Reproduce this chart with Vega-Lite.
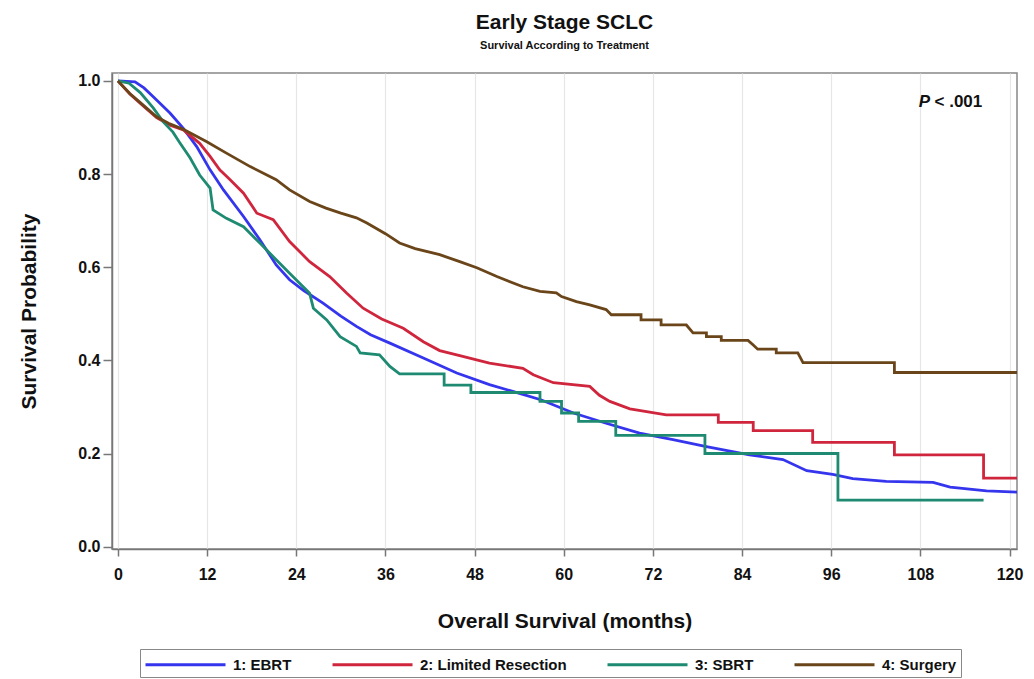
{
  "$schema": "https://vega.github.io/schema/vega-lite/v6.json",
  "autosize": {"type": "none"},
  "padding": {"left": 112, "top": 73, "right": 17, "bottom": 130},
  "width": 905,
  "height": 476,
  "background": "white",
  "title": {
    "text": "Early Stage SCLC",
    "subtitle": "Survival According to Treatment",
    "anchor": "middle",
    "font": "Liberation Sans",
    "fontSize": 21,
    "fontWeight": "bold",
    "color": "#111",
    "subtitleFont": "Liberation Sans",
    "subtitleFontSize": 11,
    "subtitleFontWeight": "bold",
    "subtitleColor": "#111",
    "subtitlePadding": 7,
    "offset": 22
  },
  "config": {
    "view": {"stroke": "#888", "strokeWidth": 1.5},
    "axis": {
      "labelFont": "Liberation Sans",
      "labelFontSize": 16,
      "labelFontWeight": "bold",
      "labelColor": "#111",
      "titleFont": "Liberation Sans",
      "titleFontSize": 21,
      "titleFontWeight": "bold",
      "titleColor": "#111",
      "domainColor": "#777",
      "domainWidth": 1.5,
      "tickColor": "#777",
      "tickWidth": 1.5
    },
    "legend": {
      "labelFont": "Liberation Sans",
      "labelFontSize": 15,
      "labelFontWeight": "bold",
      "labelColor": "#111"
    }
  },
  "datasets": {
    "km": [
      {"g": "1: EBRT", "k": 1, "t": 0, "s": 1},
      {"g": "1: EBRT", "k": 2, "t": 2.3, "s": 0.998},
      {"g": "1: EBRT", "k": 3, "t": 3.5, "s": 0.985},
      {"g": "1: EBRT", "k": 4, "t": 4.75, "s": 0.966},
      {"g": "1: EBRT", "k": 5, "t": 7, "s": 0.931},
      {"g": "1: EBRT", "k": 6, "t": 8.8, "s": 0.898},
      {"g": "1: EBRT", "k": 7, "t": 10.6, "s": 0.859},
      {"g": "1: EBRT", "k": 8, "t": 12.4, "s": 0.809},
      {"g": "1: EBRT", "k": 9, "t": 14.2, "s": 0.766},
      {"g": "1: EBRT", "k": 10, "t": 16.9, "s": 0.709},
      {"g": "1: EBRT", "k": 11, "t": 19.1, "s": 0.659},
      {"g": "1: EBRT", "k": 12, "t": 21.3, "s": 0.605},
      {"g": "1: EBRT", "k": 13, "t": 23.1, "s": 0.573},
      {"g": "1: EBRT", "k": 14, "t": 25, "s": 0.55},
      {"g": "1: EBRT", "k": 15, "t": 27.6, "s": 0.523},
      {"g": "1: EBRT", "k": 16, "t": 30, "s": 0.495},
      {"g": "1: EBRT", "k": 17, "t": 32.1, "s": 0.473},
      {"g": "1: EBRT", "k": 18, "t": 34, "s": 0.455},
      {"g": "1: EBRT", "k": 19, "t": 36.6, "s": 0.437},
      {"g": "1: EBRT", "k": 20, "t": 41.1, "s": 0.405},
      {"g": "1: EBRT", "k": 21, "t": 45.6, "s": 0.373},
      {"g": "1: EBRT", "k": 22, "t": 50, "s": 0.348},
      {"g": "1: EBRT", "k": 23, "t": 54.5, "s": 0.327},
      {"g": "1: EBRT", "k": 24, "t": 57, "s": 0.315},
      {"g": "1: EBRT", "k": 25, "t": 61.3, "s": 0.287},
      {"g": "1: EBRT", "k": 26, "t": 65.7, "s": 0.265},
      {"g": "1: EBRT", "k": 27, "t": 70.2, "s": 0.244},
      {"g": "1: EBRT", "k": 28, "t": 74.7, "s": 0.23},
      {"g": "1: EBRT", "k": 29, "t": 79.2, "s": 0.215},
      {"g": "1: EBRT", "k": 30, "t": 85, "s": 0.197},
      {"g": "1: EBRT", "k": 31, "t": 89.5, "s": 0.187},
      {"g": "1: EBRT", "k": 32, "t": 92.7, "s": 0.163},
      {"g": "1: EBRT", "k": 33, "t": 96.2, "s": 0.155},
      {"g": "1: EBRT", "k": 34, "t": 98.9, "s": 0.146},
      {"g": "1: EBRT", "k": 35, "t": 103.4, "s": 0.14},
      {"g": "1: EBRT", "k": 36, "t": 109.7, "s": 0.138},
      {"g": "1: EBRT", "k": 37, "t": 112, "s": 0.128},
      {"g": "1: EBRT", "k": 38, "t": 116.9, "s": 0.12},
      {"g": "1: EBRT", "k": 39, "t": 121, "s": 0.117},

      {"g": "2: Limited Resection", "k": 1, "t": 0, "s": 1},
      {"g": "2: Limited Resection", "k": 2, "t": 1.6, "s": 0.972},
      {"g": "2: Limited Resection", "k": 3, "t": 3.4, "s": 0.946},
      {"g": "2: Limited Resection", "k": 4, "t": 5.2, "s": 0.921},
      {"g": "2: Limited Resection", "k": 5, "t": 7, "s": 0.905},
      {"g": "2: Limited Resection", "k": 6, "t": 8.8, "s": 0.895},
      {"g": "2: Limited Resection", "k": 7, "t": 11, "s": 0.866},
      {"g": "2: Limited Resection", "k": 8, "t": 12.4, "s": 0.838},
      {"g": "2: Limited Resection", "k": 9, "t": 13.7, "s": 0.809},
      {"g": "2: Limited Resection", "k": 10, "t": 15.1, "s": 0.788},
      {"g": "2: Limited Resection", "k": 11, "t": 16.9, "s": 0.759},
      {"g": "2: Limited Resection", "k": 12, "t": 18.7, "s": 0.716},
      {"g": "2: Limited Resection", "k": 13, "t": 20.9, "s": 0.702},
      {"g": "2: Limited Resection", "k": 14, "t": 23.1, "s": 0.655},
      {"g": "2: Limited Resection", "k": 15, "t": 25.8, "s": 0.612},
      {"g": "2: Limited Resection", "k": 16, "t": 28.5, "s": 0.58},
      {"g": "2: Limited Resection", "k": 17, "t": 30.8, "s": 0.544},
      {"g": "2: Limited Resection", "k": 18, "t": 33, "s": 0.512},
      {"g": "2: Limited Resection", "k": 19, "t": 35.5, "s": 0.489},
      {"g": "2: Limited Resection", "k": 20, "t": 38.4, "s": 0.469},
      {"g": "2: Limited Resection", "k": 21, "t": 41.1, "s": 0.44},
      {"g": "2: Limited Resection", "k": 22, "t": 43.3, "s": 0.421},
      {"g": "2: Limited Resection", "k": 23, "t": 46, "s": 0.41},
      {"g": "2: Limited Resection", "k": 24, "t": 50, "s": 0.394},
      {"g": "2: Limited Resection", "k": 25, "t": 54.5, "s": 0.383},
      {"g": "2: Limited Resection", "k": 26, "t": 55.9, "s": 0.369},
      {"g": "2: Limited Resection", "k": 27, "t": 58.6, "s": 0.352},
      {"g": "2: Limited Resection", "k": 28, "t": 63.5, "s": 0.344},
      {"g": "2: Limited Resection", "k": 29, "t": 64.8, "s": 0.325},
      {"g": "2: Limited Resection", "k": 30, "t": 66.2, "s": 0.312},
      {"g": "2: Limited Resection", "k": 31, "t": 68.9, "s": 0.296},
      {"g": "2: Limited Resection", "k": 32, "t": 73.8, "s": 0.283},
      {"g": "2: Limited Resection", "k": 33, "t": 80.8, "s": 0.283},
      {"g": "2: Limited Resection", "k": 34, "t": 80.8, "s": 0.267},
      {"g": "2: Limited Resection", "k": 35, "t": 85.5, "s": 0.267},
      {"g": "2: Limited Resection", "k": 36, "t": 85.5, "s": 0.249},
      {"g": "2: Limited Resection", "k": 37, "t": 93.5, "s": 0.249},
      {"g": "2: Limited Resection", "k": 38, "t": 93.5, "s": 0.224},
      {"g": "2: Limited Resection", "k": 39, "t": 104.5, "s": 0.224},
      {"g": "2: Limited Resection", "k": 40, "t": 104.5, "s": 0.197},
      {"g": "2: Limited Resection", "k": 41, "t": 116.5, "s": 0.197},
      {"g": "2: Limited Resection", "k": 42, "t": 116.5, "s": 0.147},
      {"g": "2: Limited Resection", "k": 43, "t": 121, "s": 0.147},

      {"g": "3: SBRT", "k": 1, "t": 0, "s": 1},
      {"g": "3: SBRT", "k": 2, "t": 1.5, "s": 0.995},
      {"g": "3: SBRT", "k": 3, "t": 3, "s": 0.975},
      {"g": "3: SBRT", "k": 4, "t": 4.75, "s": 0.942},
      {"g": "3: SBRT", "k": 5, "t": 6.1, "s": 0.912},
      {"g": "3: SBRT", "k": 6, "t": 7.4, "s": 0.89},
      {"g": "3: SBRT", "k": 7, "t": 8.3, "s": 0.868},
      {"g": "3: SBRT", "k": 8, "t": 9.7, "s": 0.835},
      {"g": "3: SBRT", "k": 9, "t": 11, "s": 0.798},
      {"g": "3: SBRT", "k": 10, "t": 12.4, "s": 0.77},
      {"g": "3: SBRT", "k": 11, "t": 12.8, "s": 0.723},
      {"g": "3: SBRT", "k": 12, "t": 14.6, "s": 0.705},
      {"g": "3: SBRT", "k": 13, "t": 16.9, "s": 0.687},
      {"g": "3: SBRT", "k": 14, "t": 19.1, "s": 0.652},
      {"g": "3: SBRT", "k": 15, "t": 21.3, "s": 0.616},
      {"g": "3: SBRT", "k": 16, "t": 23.1, "s": 0.587},
      {"g": "3: SBRT", "k": 17, "t": 25.8, "s": 0.544},
      {"g": "3: SBRT", "k": 18, "t": 26.3, "s": 0.512},
      {"g": "3: SBRT", "k": 19, "t": 28.1, "s": 0.487},
      {"g": "3: SBRT", "k": 20, "t": 29.9, "s": 0.451},
      {"g": "3: SBRT", "k": 21, "t": 32.1, "s": 0.43},
      {"g": "3: SBRT", "k": 22, "t": 32.6, "s": 0.416},
      {"g": "3: SBRT", "k": 23, "t": 35.2, "s": 0.412},
      {"g": "3: SBRT", "k": 24, "t": 36.6, "s": 0.387},
      {"g": "3: SBRT", "k": 25, "t": 37.9, "s": 0.371},
      {"g": "3: SBRT", "k": 26, "t": 43.9, "s": 0.371},
      {"g": "3: SBRT", "k": 27, "t": 43.9, "s": 0.347},
      {"g": "3: SBRT", "k": 28, "t": 47.5, "s": 0.347},
      {"g": "3: SBRT", "k": 29, "t": 47.5, "s": 0.331},
      {"g": "3: SBRT", "k": 30, "t": 56.8, "s": 0.331},
      {"g": "3: SBRT", "k": 31, "t": 56.8, "s": 0.312},
      {"g": "3: SBRT", "k": 32, "t": 59.7, "s": 0.312},
      {"g": "3: SBRT", "k": 33, "t": 59.7, "s": 0.287},
      {"g": "3: SBRT", "k": 34, "t": 62, "s": 0.287},
      {"g": "3: SBRT", "k": 35, "t": 62, "s": 0.269},
      {"g": "3: SBRT", "k": 36, "t": 67, "s": 0.269},
      {"g": "3: SBRT", "k": 37, "t": 67, "s": 0.239},
      {"g": "3: SBRT", "k": 38, "t": 79, "s": 0.239},
      {"g": "3: SBRT", "k": 39, "t": 79, "s": 0.2},
      {"g": "3: SBRT", "k": 40, "t": 96.9, "s": 0.2},
      {"g": "3: SBRT", "k": 41, "t": 96.9, "s": 0.1},
      {"g": "3: SBRT", "k": 42, "t": 116.5, "s": 0.1},

      {"g": "4: Surgery", "k": 1, "t": 0, "s": 1},
      {"g": "4: Surgery", "k": 2, "t": 1.6, "s": 0.973},
      {"g": "4: Surgery", "k": 3, "t": 3.4, "s": 0.948},
      {"g": "4: Surgery", "k": 4, "t": 5.2, "s": 0.923},
      {"g": "4: Surgery", "k": 5, "t": 6.8, "s": 0.909},
      {"g": "4: Surgery", "k": 6, "t": 8.8, "s": 0.896},
      {"g": "4: Surgery", "k": 7, "t": 11.9, "s": 0.87},
      {"g": "4: Surgery", "k": 8, "t": 14.6, "s": 0.845},
      {"g": "4: Surgery", "k": 9, "t": 17.8, "s": 0.816},
      {"g": "4: Surgery", "k": 10, "t": 21.3, "s": 0.788},
      {"g": "4: Surgery", "k": 11, "t": 23.1, "s": 0.766},
      {"g": "4: Surgery", "k": 12, "t": 25.8, "s": 0.741},
      {"g": "4: Surgery", "k": 13, "t": 28, "s": 0.727},
      {"g": "4: Surgery", "k": 14, "t": 30, "s": 0.716},
      {"g": "4: Surgery", "k": 15, "t": 32.1, "s": 0.706},
      {"g": "4: Surgery", "k": 16, "t": 33.5, "s": 0.695},
      {"g": "4: Surgery", "k": 17, "t": 36, "s": 0.672},
      {"g": "4: Surgery", "k": 18, "t": 37.9, "s": 0.652},
      {"g": "4: Surgery", "k": 19, "t": 40, "s": 0.64},
      {"g": "4: Surgery", "k": 20, "t": 43.3, "s": 0.627},
      {"g": "4: Surgery", "k": 21, "t": 46, "s": 0.612},
      {"g": "4: Surgery", "k": 22, "t": 48.3, "s": 0.599},
      {"g": "4: Surgery", "k": 23, "t": 51, "s": 0.58},
      {"g": "4: Surgery", "k": 24, "t": 54.5, "s": 0.558},
      {"g": "4: Surgery", "k": 25, "t": 56.8, "s": 0.548},
      {"g": "4: Surgery", "k": 26, "t": 59, "s": 0.545},
      {"g": "4: Surgery", "k": 27, "t": 59.7, "s": 0.537},
      {"g": "4: Surgery", "k": 28, "t": 61.7, "s": 0.526},
      {"g": "4: Surgery", "k": 29, "t": 63.5, "s": 0.519},
      {"g": "4: Surgery", "k": 30, "t": 65.7, "s": 0.509},
      {"g": "4: Surgery", "k": 31, "t": 66.4, "s": 0.498},
      {"g": "4: Surgery", "k": 32, "t": 70.4, "s": 0.498},
      {"g": "4: Surgery", "k": 33, "t": 70.4, "s": 0.487},
      {"g": "4: Surgery", "k": 34, "t": 73.1, "s": 0.487},
      {"g": "4: Surgery", "k": 35, "t": 73.1, "s": 0.476},
      {"g": "4: Surgery", "k": 36, "t": 76.5, "s": 0.476},
      {"g": "4: Surgery", "k": 37, "t": 77.4, "s": 0.459},
      {"g": "4: Surgery", "k": 38, "t": 79.2, "s": 0.459},
      {"g": "4: Surgery", "k": 39, "t": 79.2, "s": 0.451},
      {"g": "4: Surgery", "k": 40, "t": 81.2, "s": 0.451},
      {"g": "4: Surgery", "k": 41, "t": 81.2, "s": 0.443},
      {"g": "4: Surgery", "k": 42, "t": 84.8, "s": 0.443},
      {"g": "4: Surgery", "k": 43, "t": 85.5, "s": 0.433},
      {"g": "4: Surgery", "k": 44, "t": 86.1, "s": 0.424},
      {"g": "4: Surgery", "k": 45, "t": 88.6, "s": 0.424},
      {"g": "4: Surgery", "k": 46, "t": 88.6, "s": 0.416},
      {"g": "4: Surgery", "k": 47, "t": 91.5, "s": 0.416},
      {"g": "4: Surgery", "k": 48, "t": 92.2, "s": 0.395},
      {"g": "4: Surgery", "k": 49, "t": 104.5, "s": 0.395},
      {"g": "4: Surgery", "k": 50, "t": 104.5, "s": 0.374},
      {"g": "4: Surgery", "k": 51, "t": 121, "s": 0.374}
    ]
  },
  "layer": [
    {
      "data": {"name": "km"},
      "mark": {"type": "line", "strokeWidth": 2.8, "clip": true, "interpolate": "linear"},
      "encoding": {
        "x": {
          "field": "t", "type": "quantitative",
          "scale": {"domain": [-0.8, 121], "nice": false, "zero": false},
          "axis": {
            "title": "Overall Survival (months)",
            "values": [0, 12, 24, 36, 48, 60, 72, 84, 96, 108, 120],
            "grid": true, "gridColor": "#e6e6e6", "gridWidth": 1.2,
            "tickSize": 7,
            "labelPadding": 10, "titlePadding": 28
          }
        },
        "y": {
          "field": "s", "type": "quantitative",
          "scale": {"domain": [-0.005, 1.017], "nice": false, "zero": false},
          "axis": {
            "title": "Survival Probability",
            "values": [0, 0.2, 0.4, 0.6, 0.8, 1.0],
            "format": ".1f",
            "grid": false,
            "tickSize": 9,
            "labelPadding": 3, "titlePadding": 38
          }
        },
        "color": {
          "field": "g", "type": "nominal",
          "scale": {
            "domain": ["1: EBRT", "2: Limited Resection", "3: SBRT", "4: Surgery"],
            "range": ["#3535ee", "#d0263d", "#1e8a72", "#6a4519"]
          },
          "legend": {
            "title": null,
            "orient": "none",
            "legendX": 28,
            "legendY": 576,
            "direction": "horizontal",
            "columns": 4,
            "symbolType": "M-1,0H7",
            "symbolSize": 400,
            "symbolStrokeWidth": 3,
            "labelOffset": 66,
            "columnPadding": 34,
            "strokeColor": "#888",
            "padding": 4
          }
        },
        "order": {"field": "k", "type": "quantitative"}
      }
    },
    {
      "data": {"values": [{"t": 109.3, "s": 0.955, "txt": "P"}]},
      "mark": {"type": "text", "align": "right", "baseline": "middle", "font": "Liberation Sans", "fontSize": 17, "fontWeight": "bold", "fontStyle": "italic", "color": "#111"},
      "encoding": {
        "x": {"field": "t", "type": "quantitative"},
        "y": {"field": "s", "type": "quantitative"},
        "text": {"field": "txt"}
      }
    },
    {
      "data": {"values": [{"t": 109.9, "s": 0.955, "txt": "< .001"}]},
      "mark": {"type": "text", "align": "left", "baseline": "middle", "font": "Liberation Sans", "fontSize": 17, "fontWeight": "bold", "color": "#111"},
      "encoding": {
        "x": {"field": "t", "type": "quantitative"},
        "y": {"field": "s", "type": "quantitative"},
        "text": {"field": "txt"}
      }
    }
  ]
}
